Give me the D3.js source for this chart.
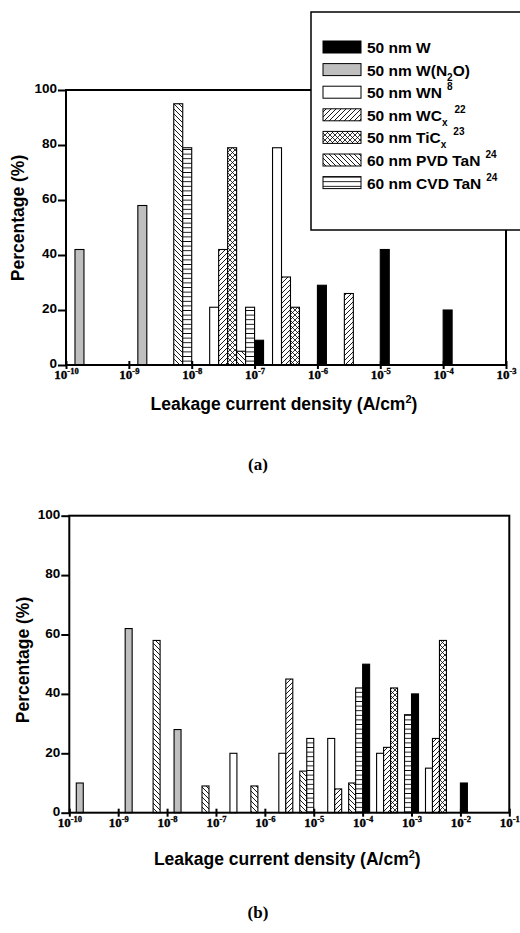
<!DOCTYPE html>
<html><head><meta charset="utf-8">
<script src="https://cdn.jsdelivr.net/npm/d3@7"></script>
<style>body{margin:0;background:#fff}svg{display:block}</style>
</head><body>
<svg id="c" width="520" height="933"></svg>
<script>
// ---------- data ----------
const seriesNames = ["50 nm W","50 nm W(N2O)","50 nm WN","50 nm WCx","50 nm TiCx","60 nm PVD TaN","60 nm CVD TaN"];
const yTicks = [0,20,40,60,80,100];
const topDecades = [-10,-9,-8,-7,-6,-5,-4,-3];
const botDecades = [-10,-9,-8,-7,-6,-5,-4,-3,-2,-1];
// [decade exponent of bin start, percentage]
const topW     = [[-7,9],[-6,29],[-5,42],[-4,20]];
const topWN2O  = [[-10,42],[-9,58]];
const topWN    = [[-8,21],[-7,79]];
const topWCx   = [[-8,42],[-7,32],[-6,26]];
const topTiCx  = [[-8,79],[-7,21]];
const topPVD   = [[-9,95],[-8,5]];
const topCVD   = [[-9,79],[-8,21]];
const botW     = [[-4,50],[-3,40],[-2,10]];
const botWN2O  = [[-10,10],[-9,62],[-8,28]];
const botWN    = [[-7,20],[-6,20],[-5,25],[-4,20],[-3,15]];
const botWCx   = [[-6,45],[-5,8],[-4,22],[-3,25]];
const botTiCx  = [[-4,42],[-3,58]];
const botPVD   = [[-9,58],[-8,9],[-7,9],[-6,14],[-5,10]];
const botCVD   = [[-6,25],[-5,42],[-4,33]];

const topSeries = [topW,topWN2O,topWN,topWCx,topTiCx,topPVD,topCVD];
const botSeries = [botW,botWN2O,botWN,botWCx,botTiCx,botPVD,botCVD];

// ---------- styles ----------
const fills = ["#000","#bfbfbf","#fff","url(#pDiag)","url(#pCross)","url(#pBack)","url(#pHoriz)"];
const SANS = "'Liberation Sans', Arial, sans-serif";
const SERIF = "'Liberation Serif', 'Times New Roman', serif";

const svg = d3.select("#c");
const defs = svg.append("defs");
function pat(id, w, h, d, sw){
  const p = defs.append("pattern").attr("id",id).attr("patternUnits","userSpaceOnUse")
    .attr("width",w).attr("height",h);
  p.append("rect").attr("width",w).attr("height",h).attr("fill","#fff");
  p.append("path").attr("d",d).attr("stroke","#000").attr("stroke-width",sw).attr("fill","none");
}
pat("pDiag",5,5,"M0,5 L5,0 M-1,1 L1,-1 M4,6 L6,4",0.9);
pat("pBack",5,5,"M0,0 L5,5 M-1,4 L1,6 M4,-1 L6,1",0.9);
pat("pCross",5,5,"M0,5 L5,0 M-1,1 L1,-1 M4,6 L6,4 M0,0 L5,5 M-1,4 L1,6 M4,-1 L6,1",0.8);
pat("pHoriz",5,4.6,"M-1,2.3 L6,2.3",0.9);

const nSlots = seriesNames.length;

function panel(decades, series, xr, yr, yTitleX, yTitleY, xTitleY){
  const x = d3.scaleLog().domain([Math.pow(10,decades[0]), Math.pow(10,decades[decades.length-1])]).range(xr);
  const y = d3.scaleLinear().domain([0,100]).range(yr);
  const g = svg.append("g");
  series.forEach((s,k)=>{
    g.selectAll(null).data(s).enter().append("rect")
      .attr("x", d=>x(Math.pow(10, d[0] + k/nSlots)))
      .attr("width", d=>x(Math.pow(10, d[0] + (k+1)/nSlots)) - x(Math.pow(10, d[0] + k/nSlots)))
      .attr("y", d=>y(d[1]))
      .attr("height", d=>y(0)-y(d[1]))
      .attr("fill", fills[k]).attr("stroke","#000").attr("stroke-width",1.1);
  });
  g.append("rect").attr("x",xr[0]).attr("y",yr[1]).attr("width",xr[1]-xr[0]).attr("height",yr[0]-yr[1])
    .attr("fill","none").attr("stroke","#000").attr("stroke-width",2);
  const ya = g.append("g").attr("transform",`translate(${xr[0]},0)`)
    .call(d3.axisLeft(y).tickValues(yTicks).tickSize(8).tickPadding(1));
  ya.select(".domain").remove();
  ya.selectAll("line").attr("stroke-width",2);
  ya.selectAll("text").attr("y",-1.5)
    .style("font-family",SANS).style("font-weight","bold").style("font-size","13.5px").attr("fill","#000");
  const xa = g.append("g").attr("transform",`translate(0,${yr[0]})`)
    .call(d3.axisBottom(x).tickValues(decades.map(e=>Math.pow(10,e))).tickSize(0).tickFormat(()=>""));
  xa.select(".domain").remove();
  xa.selectAll(".tick line").attr("y1",-4).attr("y2",4).attr("stroke-width",2);
  xa.selectAll(".tick").each(function(d){
    const e = Math.round(Math.log10(d));
    const t = d3.select(this).select("text").text(null)
      .attr("y",14).attr("dy",null).attr("x",0)
      .style("font-family",SERIF).style("font-weight","bold").style("font-size","13px")
      .attr("fill","#000").attr("stroke","#000").attr("stroke-width",0.35)
      .attr("text-anchor","middle");
    t.append("tspan").text("10");
    t.append("tspan").attr("dy",-5).style("font-size","8.5px").text(String(e));
  });
  const xt = g.append("text").attr("x",(xr[0]+xr[1])/2 - 2).attr("y",xTitleY)
    .attr("text-anchor","middle").style("font-family",SANS).style("font-weight","bold").style("font-size","17.5px");
  xt.append("tspan").text("Leakage current density (A/cm");
  xt.append("tspan").attr("dy",-7).style("font-size","11px").text("2");
  xt.append("tspan").attr("dy",7).text(")");
  g.append("text").attr("transform",`translate(${yTitleX},${yTitleY}) rotate(-90)`)
    .attr("text-anchor","middle").style("font-family",SANS).style("font-weight","bold").style("font-size","17.5px")
    .text("Percentage (%)");
  return {x,y};
}

panel(topDecades, topSeries, [66,506], [365,90], 24, 218, 410);
panel(botDecades, botSeries, [69.3,509.3], [812.7,515.7], 29, 660, 865);

svg.append("text").attr("x",258).attr("y",470).attr("text-anchor","middle")
  .style("font-family",SERIF).style("font-weight","bold").style("font-size","17px").text("(a)");
svg.append("text").attr("x",258).attr("y",918).attr("text-anchor","middle")
  .style("font-family",SERIF).style("font-weight","bold").style("font-size","17px").text("(b)");

// ---------- legend ----------
const legendParts = [
  [["50 nm W"]],
  [["50 nm W(N"],["2","sub"],["O)"]],
  [["50 nm WN"],["8","sup",5]],
  [["50 nm WC"],["x","sub"],["22","sup",7]],
  [["50 nm TiC"],["x","sub"],["23","sup",7]],
  [["60 nm PVD TaN"],["24","sup",5]],
  [["60 nm CVD TaN"],["24","sup",5]]
];
const lg = svg.append("g");
lg.append("rect").attr("x",311).attr("y",12).attr("width",240).attr("height",218)
  .attr("fill","#fff").attr("stroke","#000").attr("stroke-width",1.5);
legendParts.forEach((parts,i)=>{
  const top = 41 + i*22.6;
  lg.append("rect").attr("x",323).attr("y",top).attr("width",38).attr("height",12)
    .attr("fill",fills[i]).attr("stroke","#000").attr("stroke-width",1);
  const t = lg.append("text").attr("x",367).attr("y",top+12)
    .style("font-family",SANS).style("font-weight","bold").style("font-size","15.5px").attr("fill","#000");
  let shift = 0;
  parts.forEach(p=>{
    const ts = t.append("tspan").text(p[0]);
    let target = 0, fs = null;
    if(p[1]==="sub"){ target = 5; fs = "10px"; }
    if(p[1]==="sup"){ target = -8; fs = "10px"; }
    ts.attr("dy", target - shift);
    if(fs) ts.style("font-size",fs);
    if(p[2]) ts.attr("dx",p[2]);
    shift = target;
  });
});
</script>
</body></html>
